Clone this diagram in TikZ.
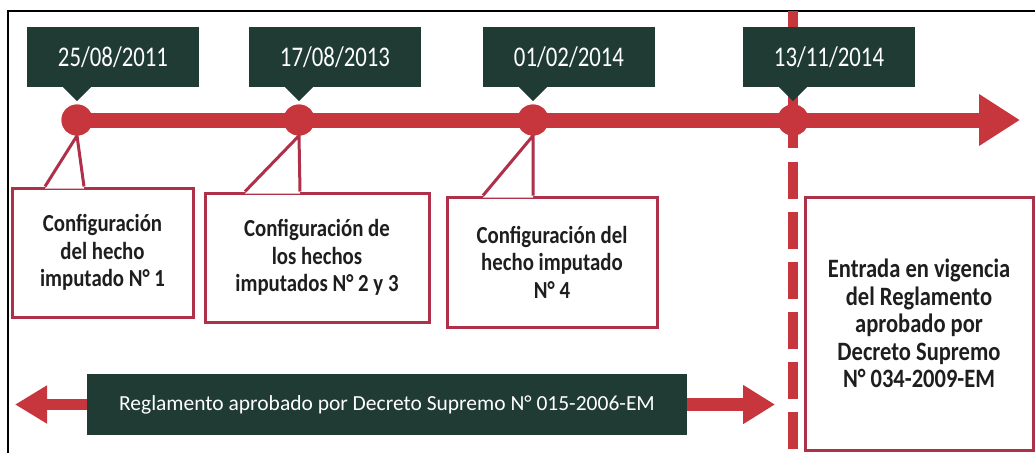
\documentclass[tikz,border=0pt]{standalone}
\usepackage{fontspec}
\setmainfont{Carlito}
\newfontfamily\tallfont{Carlito}[FakeStretch=0.85]
\newfontfamily\datefont{Carlito}[FakeStretch=0.8]
\usetikzlibrary{arrows.meta,calc,positioning}
\definecolor{linered}{HTML}{C8363D}
\definecolor{boxgreen}{HTML}{1F3B33}
\definecolor{edgered}{HTML}{AE3049}
\definecolor{inktext}{HTML}{1E1E1E}
\tikzset{
  datebox/.style={fill=boxgreen, text=white, minimum width=172pt, minimum height=60pt,
    inner sep=0pt, font=\datefont\fontsize{28.5}{30}\selectfont},
  eventbox/.style={draw=edgered, line width=3pt, fill=white, text=inktext, inner sep=0pt,
    align=center, font=\tallfont\bfseries\fontsize{24.5}{27.5}\selectfont},
  knot/.style={circle, fill=linered, minimum size=31pt, inner sep=0pt},
  wedge/.style={draw=edgered, line width=3pt},
}

\begin{document}
\begin{tikzpicture}[x=1pt,y=-1pt]
  \useasboundingbox (0,0) rectangle (1035,453);
  \draw[line width=1.5pt] (8,453) -- (8,11) -- (1035,11);

  % points on the time line
  \foreach \i/\x in {1/77,2/299,3/533,4/793}
    \coordinate (p\i) at (\x,120);
  \coordinate (tend) at (1020,120);
  \coordinate (vtop) at (793,11);
  \coordinate (vdash) at (793,162);
  \coordinate (vbot) at (793,453);

  \draw[linered, line width=10pt] (vtop) -- ($(p4)+(0,28)$);
  \draw[linered, line width=10pt, dash pattern=on 37pt off 13pt] (vdash) -- (vbot);
  \draw[linered, line width=15pt, -{Triangle[length=41pt,width=49pt]}] (p1) -- (tend);

  % events
  \node[eventbox, minimum width=181pt, minimum height=129pt] (h1) at (102.5,252.5)
    {Configuración\\del hecho\\imputado N° 1};
  \node[eventbox, minimum width=224pt, minimum height=129pt] (h2) at (317,257.5)
    {Configuración de\\los hechos\\imputados N° 2 y 3};
  \node[eventbox, minimum width=210pt, minimum height=130pt] (h3) at (552,262)
    {Configuración del\\hecho imputado\\N° 4};
  \node[eventbox, minimum width=228pt, minimum height=253pt,
    font=\tallfont\bfseries\fontsize{26.5}{27.5}\selectfont] (v1) at (919,323.5)
    {Entrada en vigencia\\del Reglamento\\aprobado por\\Decreto Supremo\\N° 034-2009-EM};

  \foreach \i in {1,2,3}
    \node[knot] (c\i) at (p\i) {};
  \node[knot] (c4) at (p4) {};

  \foreach \i/\l/\r in {1/45/84,2/245/300,3/483/533} {
    \fill[white] (c\i.south) -- ($(\l,0 |- h\i.north)+(0,2)$) -- ($(\r,0 |- h\i.north)+(0,2)$) -- cycle;
    \draw[wedge] (\l,0 |- h\i.north) -- (c\i.south) -- (\r,0 |- h\i.north);
  }
  \foreach \i in {1,2,3,4}
    \node[knot] at (c\i) {};

  % dates
  \foreach \i/\when in {1/{25/08/2011},2/{17/08/2013},3/{01/02/2014},4/{13/11/2014}} {
    \node[datebox] (d\i) at ($(p\i |- 0,57)+(36,0)$) {\when};
    \fill[boxgreen] ($(p\i |- d\i.south)+(-14,0)$) -- ($(p\i |- d\i.south)+(14,0)$)
      -- ($(p\i |- d\i.south)+(0,14)$) -- cycle;
  }

  % regulation in force
  \node[datebox, minimum width=600pt, minimum height=61pt, font=\fontsize{21.5}{26}\selectfont]
    (reg) at (387,404.5) {Reglamento aprobado por Decreto Supremo N° 015-2006-EM};
  \coordinate (lend) at (15,404.5);
  \coordinate (rend) at (775,404.5);
  \draw[linered, line width=11pt, -{Triangle[length=32pt,width=36pt]}] (reg.west) -- (lend);
  \draw[linered, line width=13pt, -{Triangle[length=32pt,width=37pt]}] (reg.east) -- (rend);
\end{tikzpicture}
\end{document}
